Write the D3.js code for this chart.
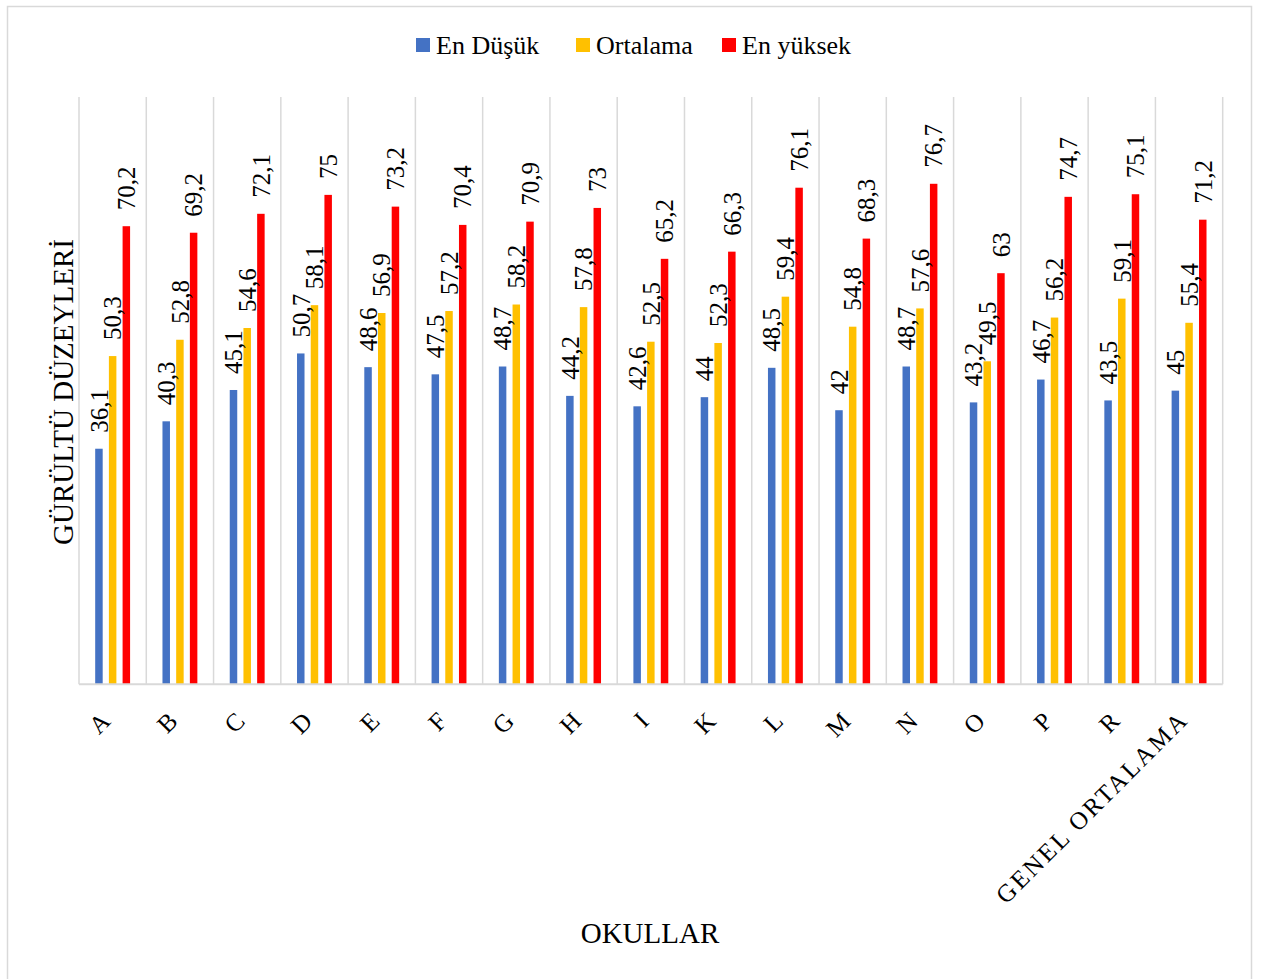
<!DOCTYPE html>
<html>
<head>
<meta charset="utf-8">
<script src="https://cdn.jsdelivr.net/npm/d3@7"></script>
<style>
  html, body { margin: 0; padding: 0; background: #fff; }
  svg { display: block; }
</style>
</head>
<body>
<svg id="chart" width="1272" height="979"></svg>
<script>
// Okul adları (x ekseni kategorileri)
const categories = ["A", "B", "C", "D", "E", "F", "G", "H", "I", "K", "L", "M", "N", "O", "P", "R", "GENEL ORTALAMA"];

// Seri adları ve renkleri
const seriesNames = ["En Düşük", "Ortalama", "En yüksek"];
const seriesColors = ["#4472C4", "#FFC000", "#FF0000"];

// Gürültü düzeyleri (dB)
const enDusuk   = [36.1, 40.3, 45.1, 50.7, 48.6, 47.5, 48.7, 44.2, 42.6, 44, 48.5, 42, 48.7, 43.2, 46.7, 43.5, 45];
const ortalama  = [50.3, 52.8, 54.6, 58.1, 56.9, 57.2, 58.2, 57.8, 52.5, 52.3, 59.4, 54.8, 57.6, 49.5, 56.2, 59.1, 55.4];
const enYuksek  = [70.2, 69.2, 72.1, 75, 73.2, 70.4, 70.9, 73, 65.2, 66.3, 76.1, 68.3, 76.7, 63, 74.7, 75.1, 71.2];

const yMax = 90;
const xTitle = "OKULLAR";
const yTitle = "GÜRÜLTÜ DÜZEYLERİ";

const FONT = "'Liberation Serif', 'Times New Roman', serif";

const seriesValues = [enDusuk, ortalama, enYuksek];
const rows = categories.map((c, i) => ({
  cat: c,
  vals: seriesNames.map((s, k) => ({ series: s, k, value: seriesValues[k][i] }))
}));

const svg = d3.select("#chart");
const fmt = v => String(v).replace(".", ",");

// Dış çerçeve
svg.append("rect")
  .attr("x", 7.5).attr("y", 6.5)
  .attr("width", 1244).attr("height", 1000)
  .attr("fill", "#fff")
  .attr("stroke", "#d9d9d9").attr("stroke-width", 1.5);

const plot = { left: 79, right: 1222.7, top: 97, bottom: 684.3 };

const x = d3.scaleBand().domain(categories).range([plot.left, plot.right]).padding(0);
const xs = d3.scaleBand().domain(seriesNames).range([0, x.bandwidth()])
  .paddingInner(0.453).paddingOuter(1.182);
const y = d3.scaleLinear().domain([0, yMax]).range([plot.bottom, plot.top]);

// Dikey kılavuz çizgileri
const gridPos = categories.map(c => x(c)).concat([plot.right]);
svg.append("g").selectAll("line").data(gridPos).join("line")
  .attr("x1", d => d).attr("x2", d => d)
  .attr("y1", y(yMax)).attr("y2", plot.bottom)
  .attr("stroke", "#d9d9d9").attr("stroke-width", 1.5);

// Çubuklar
const groups = svg.append("g").selectAll("g").data(rows).join("g")
  .attr("transform", d => `translate(${x(d.cat)},0)`);

groups.selectAll("rect").data(d => d.vals).join("rect")
  .attr("x", d => xs(d.series))
  .attr("width", xs.bandwidth())
  .attr("y", d => y(d.value))
  .attr("height", d => y(0) - y(d.value))
  .attr("fill", d => seriesColors[d.k]);

// Değer etiketleri
groups.selectAll("text").data(d => d.vals).join("text")
  .attr("transform", d => `translate(${xs(d.series) + xs.bandwidth() / 2},${y(d.value) - 16}) rotate(-90)`)
  .attr("dy", "0.35em")
  .attr("text-anchor", "start")
  .attr("font-family", FONT)
  .attr("font-size", 25)
  .attr("fill", "#000")
  .text(d => fmt(d.value));

// X ekseni çizgisi
svg.append("line")
  .attr("x1", plot.left).attr("x2", plot.right)
  .attr("y1", plot.bottom).attr("y2", plot.bottom)
  .attr("stroke", "#d9d9d9").attr("stroke-width", 2);

// Kategori etiketleri
svg.append("g").selectAll("text").data(categories).join("text")
  .attr("transform", d => `translate(${x(d) + x.bandwidth() / 2 + 1},721) rotate(-45)`)
  .attr("text-anchor", "end")
  .attr("font-family", FONT)
  .attr("font-size", 25)
  .attr("letter-spacing", 2.5)
  .attr("fill", "#000")
  .text(d => d);

// Eksen başlıkları
svg.append("text")
  .attr("x", 650).attr("y", 943)
  .attr("text-anchor", "middle")
  .attr("font-family", FONT)
  .attr("font-size", 29)
  .attr("fill", "#000")
  .text(xTitle);

svg.append("text")
  .attr("transform", "translate(73,392) rotate(-90)")
  .attr("text-anchor", "middle")
  .attr("font-family", FONT)
  .attr("font-size", 29)
  .attr("fill", "#000")
  .text(yTitle);

// Lejant
const legendX = [416, 576, 722];
const legend = svg.append("g").selectAll("g").data(seriesNames).join("g")
  .attr("transform", (d, i) => `translate(${legendX[i]},38)`);
legend.append("rect")
  .attr("width", 14).attr("height", 14)
  .attr("fill", (d, i) => seriesColors[i]);
legend.append("text")
  .attr("x", 20).attr("y", 16)
  .attr("font-family", FONT)
  .attr("font-size", 26)
  .attr("fill", "#000")
  .text(d => d);
</script>
</body>
</html>
